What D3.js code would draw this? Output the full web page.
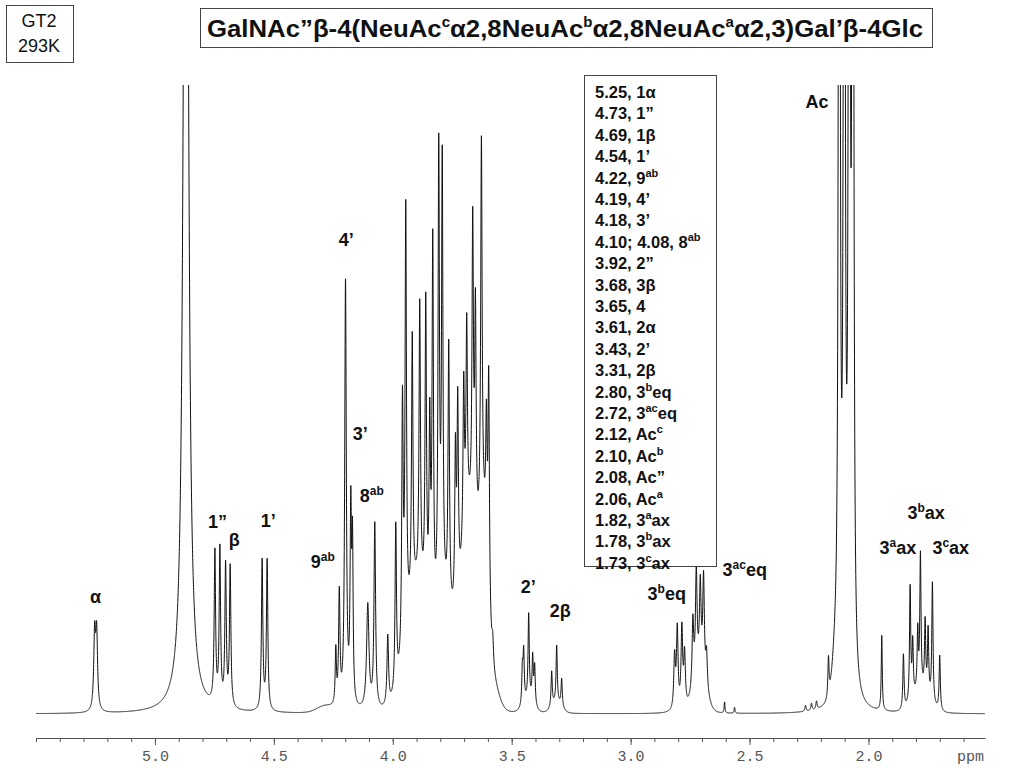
<!DOCTYPE html>
<html>
<head>
<meta charset="utf-8">
<script src="https://cdn.jsdelivr.net/npm/d3@7"></script>
<style>
  body { margin: 0; background: #fff; }
  text { font-family: "Liberation Sans", Arial, sans-serif; }
</style>
</head>
<body>
<div id="container"></div>
<script>
// peaks: shift (ppm), height above baseline, half width (ppm)
const peakPpm = [
  5.2534, 5.2450, 4.8697, 4.7479, 4.7269, 4.7029, 4.6836, 4.5492, 4.5282,
  4.2395, 4.2248, 4.1987, 4.1765, 4.1693, 4.1050, 4.0756, 4.0210,
  3.9874, 3.9592, 3.9454, 3.9181, 3.8866, 3.8613, 3.8445, 3.8319, 3.8067,
  3.7920, 3.7647, 3.7366, 3.7269, 3.7017, 3.6891, 3.6639, 3.6525, 3.6273,
  3.6063, 3.5966, 3.5798,
  3.4550, 3.4496, 3.4286, 3.4118, 3.4034, 3.3319, 3.3109, 3.2899,
  2.8151, 2.8038, 2.7845, 2.7731, 2.7382, 2.7239, 2.7071, 2.6933, 2.6807,
  2.6050, 2.5630, 2.2647, 2.2395, 2.2185, 2.1681,
  2.1227, 2.1017, 2.0807, 2.0656,
  1.9441, 1.8529, 1.8248, 1.8139, 1.7929, 1.7815, 1.7618, 1.7492, 1.7311, 1.7004
];
const peakHeight = [
  75, 75, 1500, 151, 155, 140, 140, 150, 150,
  55, 112, 425, 190, 150, 105, 185, 70,
  165, 250, 424, 260, 280, 300, 185, 375, 455,
  435, 262, 155, 195, 158, 194, 294, 218, 375,
  130, 228, 25,
  35, 50, 85, 45, 38, 35, 57, 28,
  53, 80, 80, 53, 67, 103, 84, 99, 35,
  11, 6, 6, 7, 8, 40,
  1900, 1900, 1900, 1900,
  75, 55, 115, 55, 60, 135, 70, 65, 120, 55
];
const peakWidth = [
  0.0045, 0.0045, 0.0097, 0.0035, 0.0035, 0.0035, 0.0035, 0.0035, 0.0035,
  0.003, 0.0035, 0.004, 0.0035, 0.003, 0.006, 0.004, 0.004,
  0.0035, 0.0035, 0.0035, 0.0035, 0.0035, 0.0035, 0.0035, 0.0035, 0.0035,
  0.0035, 0.0035, 0.0035, 0.0035, 0.0035, 0.0035, 0.0035, 0.0035, 0.0035,
  0.0035, 0.0035, 0.004,
  0.003, 0.003, 0.003, 0.003, 0.003, 0.003, 0.003, 0.003,
  0.004, 0.004, 0.004, 0.004, 0.004, 0.004, 0.004, 0.004, 0.004,
  0.002, 0.002, 0.003, 0.003, 0.003, 0.003,
  0.003, 0.003, 0.003, 0.003,
  0.0025, 0.003, 0.003, 0.003, 0.003, 0.003, 0.003, 0.003, 0.003, 0.003
];

// broad overlapping envelopes under the multiplets
const humpPpm = [4.2857, 3.8950, 3.7815, 3.6765, 3.6176, 3.5798, 3.4286, 3.3109, 2.7101, 2.1387, 1.7773];
const humpHeight = [6, 120, 90, 190, 120, 25, 12, 10, 40, 35, 20];
const humpSigma = [0.0336, 0.0462, 0.0336, 0.0378, 0.0168, 0.0252, 0.021, 0.021, 0.025, 0.0126, 0.034];

const majorTicks = [5.0, 4.5, 4.0, 3.5, 3.0, 2.5, 2.0];

const legendRows = [
  "5.25, 1α", "4.73, 1”", "4.69, 1β", "4.54, 1’", "4.22, 9^{ab}", "4.19, 4’",
  "4.18, 3’", "4.10; 4.08, 8^{ab}", "3.92, 2”", "3.68, 3β", "3.65, 4", "3.61, 2α",
  "3.43, 2’", "3.31, 2β", "2.80, 3^{b}eq", "2.72, 3^{ac}eq", "2.12,  Ac^{c}",
  "2.10, Ac^{b}", "2.08, Ac”", "2.06, Ac^{a}", "1.82, 3^{a}ax", "1.78, 3^{b}ax",
  "1.73, 3^{c}ax"
];

// peak labels: text, ppm of label start, level above baseline
const annoText = ["α", "1”", "β", "1’", "9^{ab}", "4’", "3’", "8^{ab}", "2’", "2β",
  "3^{b}eq", "3^{ac}eq", "Ac", "3^{b}ax", "3^{a}ax", "3^{c}ax"];
const annoPpm = [5.2731, 4.7773, 4.6891, 4.5546, 4.3445, 4.2269, 4.1681, 4.1387, 3.4622, 3.3403,
  2.9286, 2.6134, 2.2647, 1.8361, 1.9538, 1.7311];
const annoLevel = [117, 192, 174, 193, 152, 474, 280, 218, 127, 103,
  120, 144, 612, 201, 166, 166];

const titleText = "GalNAc”β-4(NeuAc^{c}α2,8NeuAc^{b}α2,8NeuAc^{a}α2,3)Gal’β-4Glc";

const width = 1024, height = 768;

const svg = d3.select("#container").append("svg")
  .attr("width", width)
  .attr("height", height);

const x = d3.scaleLinear().domain([5.5, 1.51]).range([36, 985]);
const y = d3.scaleLinear().domain([0, 629]).range([714, 85]);

// spectrum = sum of lorentzian lines + gaussian envelopes
const intensity = (p) => {
  let s = 0;
  for (let i = 0; i < peakPpm.length; i++) {
    const d = p - peakPpm[i], w = peakWidth[i];
    s += peakHeight[i] * w * w / (d * d + w * w);
  }
  for (let i = 0; i < humpPpm.length; i++) {
    const d = p - humpPpm[i];
    s += humpHeight[i] * Math.exp(-d * d / (2 * humpSigma[i] * humpSigma[i]));
  }
  return s;
};

const grid = d3.range(5.5, 1.51, -0.0004).concat(peakPpm).sort((a, b) => b - a);
const trace = grid.map((p) => [p, intensity(p)]);

svg.append("clipPath").attr("id", "plot-clip")
  .append("rect").attr("x", 36).attr("y", 85).attr("width", 949).attr("height", 650);

svg.append("path")
  .datum(trace)
  .attr("clip-path", "url(#plot-clip)")
  .attr("fill", "none")
  .attr("stroke", "#111")
  .attr("stroke-width", 1)
  .attr("d", d3.line().x((d) => x(d[0])).y((d) => y(d[1])));

// axis
const axisG = svg.append("g").attr("transform", "translate(0,738)");
axisG.call(
  d3.axisBottom(x).tickValues(d3.range(55, 15, -1).map((d) => d / 10))
    .tickSize(4).tickSizeOuter(0).tickFormat("")
);
const majorG = svg.append("g").attr("transform", "translate(0,738)");
majorG.call(d3.axisBottom(x).tickValues(majorTicks).tickSize(7).tickFormat(d3.format(".1f")));
majorG.select(".domain").remove();
svg.selectAll(".tick line, .domain").attr("stroke", "#555");
majorG.selectAll("text")
  .attr("y", 12.5)
  .attr("fill", "#555")
  .style("font-family", "'Liberation Mono', 'Courier New', monospace")
  .style("font-size", "15px");

svg.append("clipPath").attr("id", "ppm-clip")
  .append("rect").attr("x", 900).attr("y", 740).attr("width", 85).attr("height", 28);
svg.append("text")
  .attr("x", 957).attr("y", 761)
  .attr("clip-path", "url(#ppm-clip)")
  .attr("fill", "#555")
  .style("font-family", "'Liberation Mono', 'Courier New', monospace")
  .style("font-size", "15px")
  .text("ppm");

// text with ^{...} superscripts
function richText(sel, str, size, supSize) {
  const parts = str.split(/\^\{([^}]*)\}/);
  const shift = Math.round(size * 0.4);
  let raised = false;
  parts.forEach((p, i) => {
    if (!p) return;
    const sup = i % 2 === 1;
    const t = sel.append("tspan").text(p);
    if (sup) {
      t.attr("font-size", supSize).attr("dy", raised ? 0 : -shift);
      raised = true;
    } else {
      t.attr("font-size", size);
      if (raised) { t.attr("dy", shift); raised = false; }
    }
  });
}

// peak labels
annoText.forEach((t, i) => {
  const lab = svg.append("text")
    .attr("x", x(annoPpm[i]))
    .attr("y", y(annoLevel[i]) + 6)
    .attr("font-weight", "bold")
    .attr("fill", "#111");
  richText(lab, t, 18, 12);
});

// legend box
const legendG = svg.append("g");
legendG.append("rect")
  .attr("x", 584.5).attr("y", 75.5).attr("width", 132).attr("height", 491)
  .attr("fill", "#fff").attr("stroke", "#444");
legendRows.forEach((r, i) => {
  const t = legendG.append("text")
    .attr("x", 595)
    .attr("y", 98 + i * 21.4)
    .attr("font-weight", "bold")
    .attr("fill", "#111");
  richText(t, r, 16.5, 11);
});

// sample box
svg.append("rect")
  .attr("x", 6.5).attr("y", 5.5).attr("width", 67).attr("height", 57)
  .attr("fill", "#fff").attr("stroke", "#444");
svg.append("text").attr("x", 39).attr("y", 27).attr("text-anchor", "middle")
  .style("font-size", "18px").attr("fill", "#111").text("GT2");
svg.append("text").attr("x", 39).attr("y", 52).attr("text-anchor", "middle")
  .style("font-size", "18px").attr("fill", "#111").text("293K");

// title box
svg.append("rect")
  .attr("x", 200.5).attr("y", 8.5).attr("width", 732).attr("height", 39)
  .attr("fill", "#fff").attr("stroke", "#444");
const title = svg.append("text")
  .attr("x", 207).attr("y", 37)
  .attr("font-weight", "bold")
  .attr("fill", "#111")
  .attr("textLength", 716)
  .attr("lengthAdjust", "spacingAndGlyphs");
richText(title, titleText, 24, 14);
</script>
</body>
</html>
